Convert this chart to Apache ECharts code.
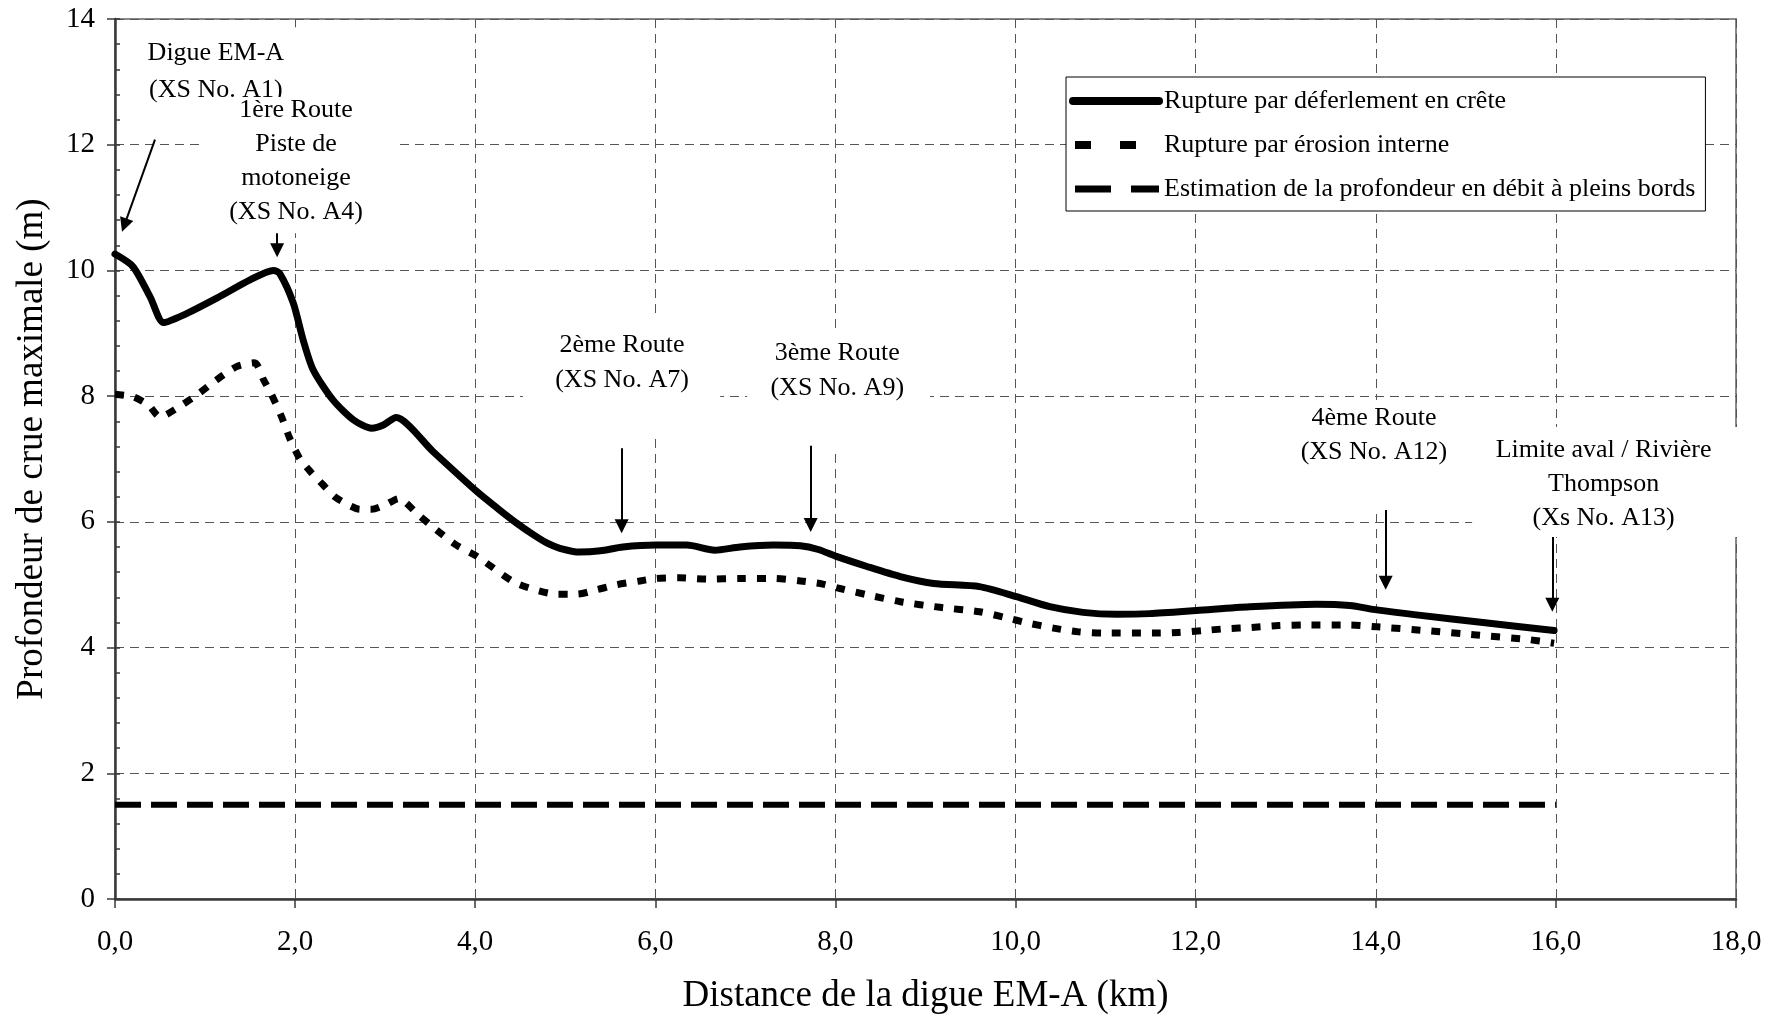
<!DOCTYPE html>
<html><head><meta charset="utf-8">
<script src="https://cdn.jsdelivr.net/npm/echarts@6/dist/echarts.min.js"></script>
<style>html,body{margin:0;padding:0;background:#fff}#c{width:1784px;height:1022px}</style>
</head><body><div id="c"></div>
<script>
// ---------- DATA ----------
const crestX = [0.0,0.2,0.39,0.54,0.76,1.13,1.5,1.76,1.83,1.98,2.09,2.2,2.42,2.65,2.85,2.98,3.12,3.53,4.02,4.27,4.46,4.64,4.8,4.94,5.16,5.39,5.64,6.01,6.35,6.66,6.94,7.31,7.61,7.81,8.01,8.35,8.72,9.09,9.6,10.01,10.38,10.75,11.12,11.49,12.01,12.6,13.34,13.71,14.01,14.45,15.19,15.98];
const crestY = [10.26,10.06,9.58,9.17,9.29,9.56,9.85,10.0,9.95,9.48,8.89,8.42,7.94,7.62,7.49,7.54,7.66,7.12,6.48,6.19,5.98,5.8,5.66,5.58,5.52,5.54,5.6,5.63,5.63,5.55,5.6,5.63,5.62,5.56,5.45,5.29,5.13,5.02,4.97,4.81,4.65,4.56,4.53,4.54,4.59,4.65,4.69,4.67,4.6,4.52,4.4,4.27];
const pipingX = [0.0,0.2,0.37,0.5,0.69,0.91,1.11,1.35,1.55,1.65,1.74,1.85,1.94,2.05,2.17,2.31,2.44,2.59,2.72,2.85,3.0,3.15,3.37,3.57,3.79,4.02,4.42,4.64,4.9,5.13,5.35,5.57,5.83,6.01,6.27,6.57,6.94,7.31,7.61,7.86,8.05,8.35,8.72,9.16,9.6,9.88,10.14,10.42,10.7,10.97,11.53,11.81,12.08,12.34,12.62,12.92,13.2,13.71,14.01,14.56,15.12,15.68,15.98];
const pipingY = [8.03,7.99,7.86,7.67,7.81,8.02,8.24,8.47,8.53,8.26,8.02,7.67,7.33,7.01,6.8,6.59,6.4,6.27,6.2,6.2,6.27,6.37,6.11,5.87,5.63,5.45,5.05,4.93,4.85,4.85,4.92,5.0,5.06,5.1,5.11,5.09,5.1,5.1,5.06,5.01,4.94,4.84,4.73,4.64,4.57,4.48,4.39,4.31,4.25,4.23,4.23,4.24,4.27,4.3,4.32,4.35,4.36,4.36,4.33,4.27,4.2,4.13,4.07];
const bankfullX = [0, 16];
const bankfullY = [1.5, 1.5];
const seriesNames = ['Rupture par déferlement en crête', 'Rupture par érosion interne', 'Estimation de la profondeur en débit à pleins bords'];
const xAxisTitle = 'Distance de la digue EM-A (km)';
const yAxisTitle = 'Profondeur de crue maximale (m)';
const annoTexts = [
  'Digue EM-A\n(XS No. A1)',
  '1ère Route\nPiste de\nmotoneige\n(XS No. A4)',
  '2ème Route\n(XS No. A7)',
  '3ème Route\n(XS No. A9)',
  '4ème Route\n(XS No. A12)',
  'Limite aval / Rivière\nThompson\n(Xs No. A13)'
];

// ---------- ANNOTATION LAYOUT (data units: km, m) ----------
const annoAt = [[1.12,13.46],[2.01,12.55],[5.63,8.81],[8.02,8.69],[13.98,7.65],[16.53,7.14]];
const annoLineH = [37, 34, 35, 35, 34, 34];
const annoBox = [[0.11,13.87,2.17,12.31],[0.94,12.76,3.13,10.59],[4.53,9.23,6.72,7.33],[7.02,9.02,9.05,7.17],[12.88,7.94,15.1,6.19],[15.07,7.51,18.27,5.76]];
const arrowCoords = [
  [[0.444,12.08],[0.104,10.72]],
  [[1.80,10.59],[1.80,10.32]],
  [[5.626,7.17],[5.626,5.93]],
  [[7.725,7.21],[7.725,5.95]],
  [[14.11,6.19],[14.11,5.03]],
  [[15.96,5.76],[15.96,4.68]]
];

const FONT = '"Liberation Serif", "Times New Roman", serif';
const zip = (xs, ys) => xs.map((x, i) => [x, ys[i]]);

const chart = echarts.init(document.getElementById('c'), null, {renderer: 'canvas'});
const option = {
  animation: false,
  backgroundColor: '#fff',
  textStyle: {fontFamily: FONT},
  grid: {left: 115, top: 19, width: 1621, height: 880, show: true, borderColor: '#8a8a8a', borderWidth: 2, backgroundColor: 'transparent'},
  legend: {
    orient: 'vertical', left: 1066, top: 77,
    itemWidth: 86, itemHeight: 30, itemGap: 14,
    padding: [9, 10, 7, 3],
    borderColor: '#000', borderWidth: 1, backgroundColor: '#fff',
    selectedMode: false,
    textStyle: {fontFamily: FONT, fontSize: 26, color: '#000', lineHeight: 30},
    itemStyle: {opacity: 0},
    data: [
      {name: seriesNames[0], lineStyle: {width: 8, type: 'solid', cap: 'round', color: '#000'}},
      {name: seriesNames[1], lineStyle: {width: 8, type: [16, 29], dashOffset: -2, color: '#000'}},
      {name: seriesNames[2], lineStyle: {width: 7, type: [36, 20], dashOffset: -2, color: '#000'}}
    ]
  },
  xAxis: {
    type: 'value', min: 0, max: 18, interval: 2,
    name: xAxisTitle, nameLocation: 'middle', nameGap: 79,
    nameTextStyle: {fontFamily: FONT, fontSize: 37, color: '#000'},
    axisLine: {show: true, onZero: false, lineStyle: {color: '#3a3a3a', width: 2.5}},
    axisTick: {show: true, inside: false, length: 9, lineStyle: {color: '#3a3a3a', width: 1.5}},
    axisLabel: {fontFamily: FONT, fontSize: 29, color: '#000', margin: 29, formatter: v => v.toFixed(1).replace('.', ',')},
    splitLine: {show: true, lineStyle: {color: '#555', width: 1, type: [9, 6]}}
  },
  yAxis: [{
    type: 'value', min: 0, max: 14, interval: 2,
    name: yAxisTitle, nameLocation: 'middle', nameGap: 64,
    nameTextStyle: {fontFamily: FONT, fontSize: 37, color: '#000', padding: [0, 0, 0, 20]},
    axisLine: {show: true, onZero: false, lineStyle: {color: '#3a3a3a', width: 2.5}},
    axisTick: {show: true, inside: false, length: 8, lineStyle: {color: '#3a3a3a', width: 1.5}},
    axisLabel: {fontFamily: FONT, fontSize: 29, color: '#000', margin: 20},
    splitLine: {show: true, lineStyle: {color: '#555', width: 1, type: [9, 6]}}
  }, {
    type: 'value', min: 0, max: 14, interval: 0.4, position: 'left', offset: 0,
    axisLine: {show: false},
    axisTick: {show: true, inside: true, length: 5, lineStyle: {color: '#3a3a3a', width: 1.5}},
    axisLabel: {show: false},
    splitLine: {show: false}
  }],
  series: [
    {name: seriesNames[0], type: 'line', data: zip(crestX, crestY), symbol: 'none', smooth: 0.25, z: 3,
     lineStyle: {color: '#000', width: 7, type: 'solid', cap: 'round', join: 'round'}},
    {name: seriesNames[1], type: 'line', data: zip(pipingX, pipingY), symbol: 'none', smooth: 0.25, z: 3,
     lineStyle: {color: '#000', width: 7, type: [9, 11], cap: 'butt', join: 'round'}},
    {name: seriesNames[2], type: 'line', data: zip(bankfullX, bankfullY), symbol: 'none', z: 3,
     lineStyle: {color: '#000', width: 6, type: [26, 10], cap: 'butt'}},
    {name: 'arrows', type: 'lines', coordinateSystem: 'cartesian2d', z: 5,
     symbol: ['none', 'triangle'], symbolSize: 14,
     lineStyle: {color: '#000', width: 2, opacity: 1, curveness: 0},
     data: arrowCoords.map(c => ({coords: c}))}
  ]
};
chart.setOption(option);

// annotation text boxes, positioned through the chart's axes
const px = p => chart.convertToPixel({xAxisIndex: 0, yAxisIndex: 0}, p);
const graphics = [];
annoTexts.forEach((t, i) => {
  const b = annoBox[i];
  const p1 = px([b[0], b[1]]), p2 = px([b[2], b[3]]);
  const c = px(annoAt[i]);
  const lh = annoLineH[i];
  graphics.push({type: 'rect', z: 1, silent: true,
    shape: {x: p1[0], y: p1[1], width: p2[0] - p1[0], height: p2[1] - p1[1]},
    style: {fill: '#fff', stroke: null}});
  graphics.push({type: 'text', z: 1, silent: true,
    style: {text: t, x: c[0], y: c[1] - lh / 2, font: '26px ' + FONT, fill: '#000',
      align: 'center', verticalAlign: 'top', textAlign: 'center', textVerticalAlign: 'top', lineHeight: lh}});
});
chart.setOption({graphic: graphics});
</script>
</body></html>
